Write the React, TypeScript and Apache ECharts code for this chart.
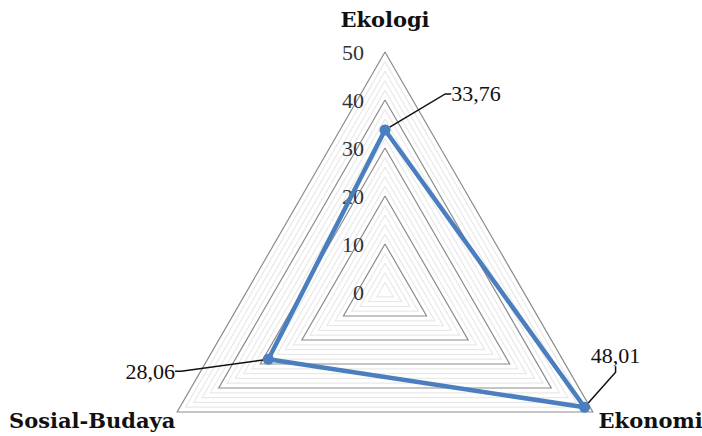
import React, { useEffect, useRef } from 'react';
import * as echarts from 'echarts';

// Indicators in ECharts' counter-clockwise order, starting at the top
const indicatorNames = ['Ekologi', 'Sosial-Budaya', 'Ekonomi'];
const indicatorMax = 50;
const seriesValues = [33.76, 28.06, 48.01];
const majorStep = 10;
const minorStep = 2;

// label offsets (layout only), keyed by indicator name
const labelOffsets: Record<string, [number, number]> = {
  Ekologi: [91, -36],
  'Sosial-Budaya': [-118, 12],
  Ekonomi: [31, -52],
};

const fmt = (v: number) => v.toFixed(2).replace('.', ',');

export default function App() {
  const ref = useRef<HTMLDivElement>(null);
  useEffect(() => {
    if (!ref.current) return;
    const chart = echarts.init(ref.current, null, { renderer: 'svg' });
    const nameFont = { fontFamily: 'DejaVu Serif', fontWeight: 'bold' as const, fontSize: 21, color: '#111' };
    const textByValue: Record<string, string> = {};
    seriesValues.forEach((v, i) => { textByValue[fmt(v)] = indicatorNames[i]; });
    const ringColors = ['#8c8c8c'];
    for (let i = 1; i < majorStep / minorStep; i++) ringColors.push('#e9e9e9');
    chart.setOption({
      animation: false,
      backgroundColor: '#ffffff',
      radar: {
        center: [385, 292],
        radius: 240,
        startAngle: 90,
        shape: 'polygon',
        splitNumber: indicatorMax / minorStep,
        indicator: indicatorNames.map((name, i) =>
          i === 0 ? { name, max: indicatorMax, min: 0 } : { name, max: indicatorMax, min: 0, axisLabel: { show: false } }
        ),
        nameGap: 2,
        axisName: {
          ...nameFont,
          formatter: (name: string) => {
            if (name === 'Ekologi') return `{top|${name}}`;
            if (name === 'Ekonomi') return `{right|${name}}`;
            return `{left|${name}}`;
          },
          rich: {
            top: { ...nameFont, padding: [0, 0, 20, 0] },
            right: { ...nameFont, padding: [14, 0, 0, 4] },
            left: { ...nameFont, padding: [14, 0, 0, 0] },
          },
        },
        axisLine: { show: false },
        axisTick: { show: false },
        axisLabel: {
          show: true,
          fontFamily: 'Liberation Serif',
          fontSize: 22,
          color: '#333',
          margin: 21,
          formatter: (v: number) => (Math.round(v) % majorStep === 0 ? String(Math.round(v)) : ''),
        },
        splitLine: { lineStyle: { color: ringColors, width: 1.2 } },
        splitArea: { show: false },
      },
      series: [
        {
          type: 'radar',
          symbol: 'circle',
          symbolSize: 11,
          lineStyle: { color: '#4a7ebf', width: 4.5 },
          itemStyle: { color: '#4a7ebf' },
          label: {
            show: true,
            fontFamily: 'Liberation Serif',
            fontSize: 22,
            color: '#111',
            formatter: (p: any) => fmt(Number(p.value)),
          },
          labelLine: { show: true, length2: 6, lineStyle: { color: '#111', width: 1.5 } },
          labelLayout: (p: any) => {
            const name = textByValue[p.text];
            const off = labelOffsets[name] || [0, 0];
            const cx = p.rect.x + p.rect.width / 2;
            const cy = p.rect.y + p.rect.height / 2;
            return { x: cx + off[0], y: cy + off[1], align: 'center', verticalAlign: 'middle' };
          },
          data: [{ value: seriesValues, name: 'Nilai' }],
        },
      ],
    });
    return () => chart.dispose();
  }, []);
  return <div ref={ref} style={{ position: 'fixed', left: 0, top: 0, width: 702, height: 436 }} />;
}
